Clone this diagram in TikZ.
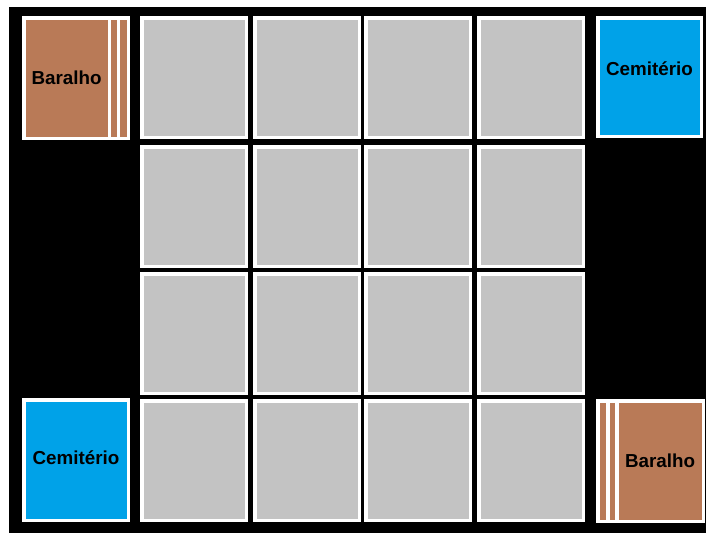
\documentclass[tikz,border=0pt]{standalone}
\usepackage{fontspec}
\setmainfont{Liberation Sans}
\usetikzlibrary{positioning}
\definecolor{cardgrey}{HTML}{C3C3C3}
\definecolor{deckbrown}{HTML}{B97A57}
\definecolor{graveblue}{HTML}{00A2E8}

\begin{document}
\begin{tikzpicture}[
  x=1pt, y=-1pt,
  every node/.style={font=\bfseries\fontsize{18.8}{20}\selectfont},
  card/.style={draw=white, line width=3.5pt, fill=cardgrey, inner sep=0pt,
               minimum width=104.5pt, minimum height=119.5pt},
  grave/.style={card, fill=graveblue, minimum height=120.5pt},
  deck/.style={card, fill=deckbrown, minimum height=120.5pt},
]
  \useasboundingbox (0,0) rectangle (706,533);
  \fill[black] (9,7) rectangle (706,533);

  % table of face-down cards
  \foreach \col/\x in {1/194, 2/307, 3/418, 4/531}
    \foreach \row/\y in {1/77.5, 2/206.5, 3/333.5, 4/460.5}
      \node[card] (c\row\col) at (\x,\y) {};

  % deck, top left
  \node[deck, anchor=west, minimum width=104.5pt] (deckTLback) at (22,78) {};
  \node[deck, anchor=west, minimum width=94.5pt] (deckTLmid) at (deckTLback.west) {};
  \node[deck, anchor=west, minimum width=85.5pt] (deckTL) at (deckTLback.west) {Baralho};

  % deck, bottom right
  \node[deck, anchor=east, minimum width=105.5pt] (deckBRback) at (705,461) {};
  \node[deck, anchor=east, minimum width=95.5pt] (deckBRmid) at (deckBRback.east) {};
  \node[deck, anchor=east, minimum width=86.5pt] (deckBR) at (deckBRback.east) {Baralho};

  % graveyards
  \node[grave, minimum width=103.5pt, minimum height=118.5pt] (graveTR) at (649.5,77)
       {\raisebox{16pt}{Cemitério}};
  \node[grave] (graveBL) at (76,460) {\raisebox{4pt}{Cemitério}};
\end{tikzpicture}
\end{document}
